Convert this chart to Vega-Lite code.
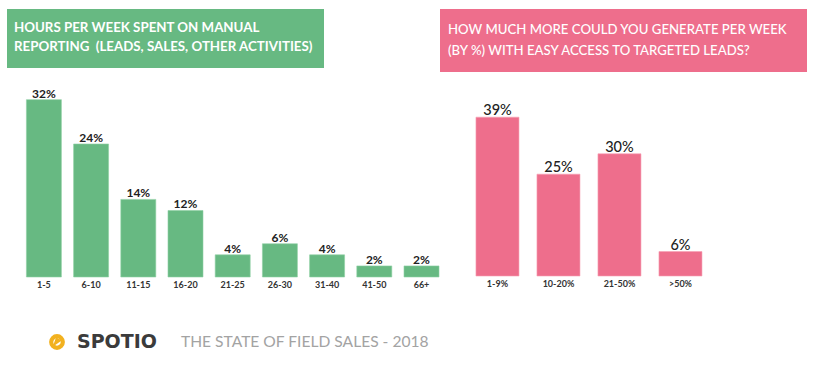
{
  "$schema": "https://vega.github.io/schema/vega-lite/v6.json",
  "padding": {"left": 7, "top": 9, "right": 0, "bottom": 0},
  "background": "white",
  "config": {"view": {"stroke": null}, "font": "Lato"},
  "spacing": 38,
  "vconcat": [
    {
      "spacing": 0,
      "hconcat": [
        {
          "spacing": 15,
          "vconcat": [
            {
              "width": 317,
              "height": 59,
              "view": {"fill": "#67b982", "stroke": null},
              "data": {"values": [
                {"line": 1, "text": "HOURS PER WEEK SPENT ON MANUAL"},
                {"line": 2, "text": "REPORTING \u00a0(LEADS, SALES, OTHER ACTIVITIES)"}
              ]},
              "mark": {"type": "text", "align": "left", "baseline": "middle", "dx": 7, "dy": -1, "font": "Lato", "fontSize": 13.3, "fontWeight": "bold", "color": "white"},
              "encoding": {
                "x": {"datum": 0, "type": "quantitative", "scale": {"domain": [0, 1]}, "axis": null},
                "y": {"field": "line", "type": "ordinal", "scale": {"type": "point", "padding": 1}, "axis": null},
                "text": {"field": "text"}
              }
            },
            {
              "width": 432,
              "height": 194,
              "data": {"values": [
                {"hours": "1-5", "share": 0.32},
                {"hours": "6-10", "share": 0.24},
                {"hours": "11-15", "share": 0.14},
                {"hours": "16-20", "share": 0.12},
                {"hours": "21-25", "share": 0.04},
                {"hours": "26-30", "share": 0.06},
                {"hours": "31-40", "share": 0.04},
                {"hours": "41-50", "share": 0.02},
                {"hours": "66+", "share": 0.02}
              ]},
              "encoding": {
                "x": {"field": "hours", "type": "nominal", "sort": null,
                      "scale": {"paddingInner": 0.2585, "paddingOuter": 0.2055, "align": 1},
                      "axis": {"title": null, "domain": false, "ticks": false, "labelAngle": 0, "labelPadding": 3, "labelFont": "Lato", "labelFontSize": 9, "labelFontWeight": "bold", "labelColor": "#333333"}},
                "y": {"field": "share", "type": "quantitative", "scale": {"domain": [0, 0.35], "nice": false}, "axis": null}
              },
              "layer": [
                {"mark": {"type": "bar", "color": "#67b982", "stroke": "#8fd0a4", "strokeWidth": 0.6}},
                {"mark": {"type": "text", "baseline": "alphabetic", "dy": -2, "font": "Lato", "fontSize": 12, "fontWeight": "bold", "color": "#222222"},
                 "encoding": {"text": {"field": "share", "type": "quantitative", "format": ".0%"}}}
              ]
            }
          ]
        },
        {
          "spacing": 15,
          "vconcat": [
            {
              "width": 367,
              "height": 63,
              "view": {"fill": "#ee6e8c", "stroke": null},
              "data": {"values": [
                {"line": 1, "text": "HOW MUCH MORE COULD YOU GENERATE PER WEEK"},
                {"line": 2, "text": "(BY %) WITH EASY ACCESS TO TARGETED LEADS?"}
              ]},
              "mark": {"type": "text", "align": "left", "baseline": "middle", "dx": 8, "dy": 0, "font": "Lato", "fontSize": 13.2, "fontWeight": 500, "color": "white"},
              "encoding": {
                "x": {"datum": 0, "type": "quantitative", "scale": {"domain": [0, 1]}, "axis": null},
                "y": {"field": "line", "type": "ordinal", "scale": {"type": "point", "padding": 1.1}, "axis": null},
                "text": {"field": "text"}
              }
            },
            {
              "width": 300,
              "height": 189,
              "data": {"values": [
                {"range": "1-9%", "share": 0.39},
                {"range": "10-20%", "share": 0.25},
                {"range": "21-50%", "share": 0.30},
                {"range": ">50%", "share": 0.06}
              ]},
              "encoding": {
                "x": {"field": "range", "type": "nominal", "sort": null,
                      "scale": {"paddingInner": 0.295, "paddingOuter": 0.6066, "align": 0.486},
                      "axis": {"title": null, "domain": false, "ticks": false, "labelAngle": 0, "labelPadding": 3, "labelFont": "Lato", "labelFontSize": 9, "labelFontWeight": "bold", "labelColor": "#333333"}},
                "y": {"field": "share", "type": "quantitative", "scale": {"domain": [0, 0.464], "nice": false}, "axis": null}
              },
              "layer": [
                {"mark": {"type": "bar", "color": "#ee6e8c", "stroke": "#f6a0b4", "strokeWidth": 0.6}},
                {"mark": {"type": "text", "baseline": "alphabetic", "dy": -2, "font": "Lato", "fontSize": 14.5, "fontWeight": 500, "color": "#222222"},
                 "encoding": {"text": {"field": "share", "type": "quantitative", "format": ".0%"}}}
              ]
            }
          ]
        }
      ]
    },
    {
      "width": 440,
      "height": 30,
      "encoding": {
        "x": {"field": "pos", "type": "quantitative", "scale": {"domain": [0, 440]}, "axis": null}
      },
      "layer": [
        {
          "data": {"values": [{"item": "logo", "pos": 50}]},
          "mark": {"type": "point", "shape": "M-0.2,-1 L1,-0.3 L-0.9,1 Z", "filled": true, "color": "#f2b11f", "size": 90, "dx": -3, "dy": 8, "opacity": 1}
        },
        {
          "data": {"values": [{"item": "logo", "pos": 50}]},
          "mark": {"type": "point", "shape": "circle", "filled": false, "stroke": "#f2b11f", "strokeWidth": 4.2, "size": 135, "dy": -2, "opacity": 1}
        },
        {
          "data": {"values": [{"item": "brand", "pos": 70, "label": "SPOTIO"}]},
          "mark": {"type": "text", "align": "left", "baseline": "middle", "font": "DejaVu Sans", "fontWeight": "bold", "fontSize": 19, "color": "#3b3b3b"},
          "encoding": {"text": {"field": "label"}}
        },
        {
          "data": {"values": [{"item": "tagline", "pos": 174, "label": "THE STATE OF FIELD SALES - 2018"}]},
          "mark": {"type": "text", "align": "left", "baseline": "middle", "font": "Lato", "fontSize": 15.6, "color": "#a3a3a3"},
          "encoding": {"text": {"field": "label"}}
        }
      ]
    }
  ]
}
